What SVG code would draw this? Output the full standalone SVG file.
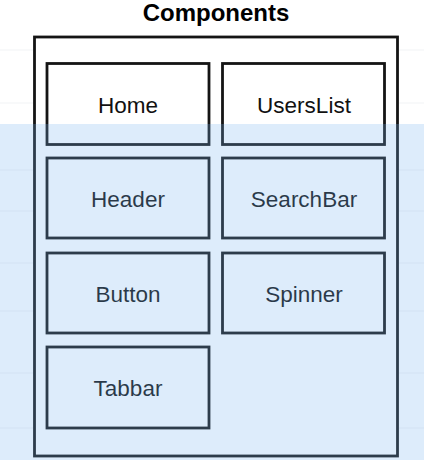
<svg xmlns="http://www.w3.org/2000/svg" width="424" height="470" viewBox="0 0 424 470">
<style>
.box{fill:#ffffff;stroke:#141414;stroke-width:2.8}
.lbl{font-family:"Liberation Sans",Arial,sans-serif;font-size:22.5px;fill:#111;text-anchor:middle}
.grid{stroke:#f1f3f5;stroke-width:1}
</style>
<rect width="424" height="470" fill="#ffffff"/>
<g id="grid">
<line class="grid" x1="0" y1="50" x2="424" y2="50"/>
<line class="grid" x1="0" y1="103" x2="424" y2="103"/>
<line class="grid" x1="0" y1="170" x2="424" y2="170"/>
<line class="grid" x1="0" y1="211" x2="424" y2="211"/>
<line class="grid" x1="0" y1="263" x2="424" y2="263"/>
<line class="grid" x1="0" y1="311" x2="424" y2="311"/>
<line class="grid" x1="0" y1="373" x2="424" y2="373"/>
<line class="grid" x1="0" y1="428" x2="424" y2="428"/>
</g>
<text x="216" y="21" font-family="'Liberation Sans',Arial,sans-serif" font-size="24" font-weight="bold" text-anchor="middle" fill="#000">Components</text>
<g id="components">
<rect class="box" x="34.5" y="37" width="363" height="419"/>
</g>
<g id="home"><rect class="box" x="47" y="63.5" width="162" height="81"/><text class="lbl" x="128" y="113">Home</text></g>
<g id="userslist"><rect class="box" x="222.5" y="63.5" width="162" height="81"/><text class="lbl" x="304" y="113">UsersList</text></g>
<g id="header"><rect class="box" x="47" y="158" width="162" height="80"/><text class="lbl" x="128" y="207">Header</text></g>
<g id="searchbar"><rect class="box" x="222.5" y="158" width="162" height="80"/><text class="lbl" x="304" y="207">SearchBar</text></g>
<g id="button"><rect class="box" x="47" y="253" width="162" height="80"/><text class="lbl" x="128" y="302">Button</text></g>
<g id="spinner"><rect class="box" x="222.5" y="253" width="162" height="80"/><text class="lbl" x="304" y="302">Spinner</text></g>
<g id="tabbar"><rect class="box" x="47" y="347" width="162" height="81"/><text class="lbl" x="128" y="396">Tabbar</text></g>
<g id="connectors"></g>
<rect id="highlight" x="0" y="124" width="424" height="336" fill="rgb(120,180,240)" fill-opacity="0.25"/>
</svg>
